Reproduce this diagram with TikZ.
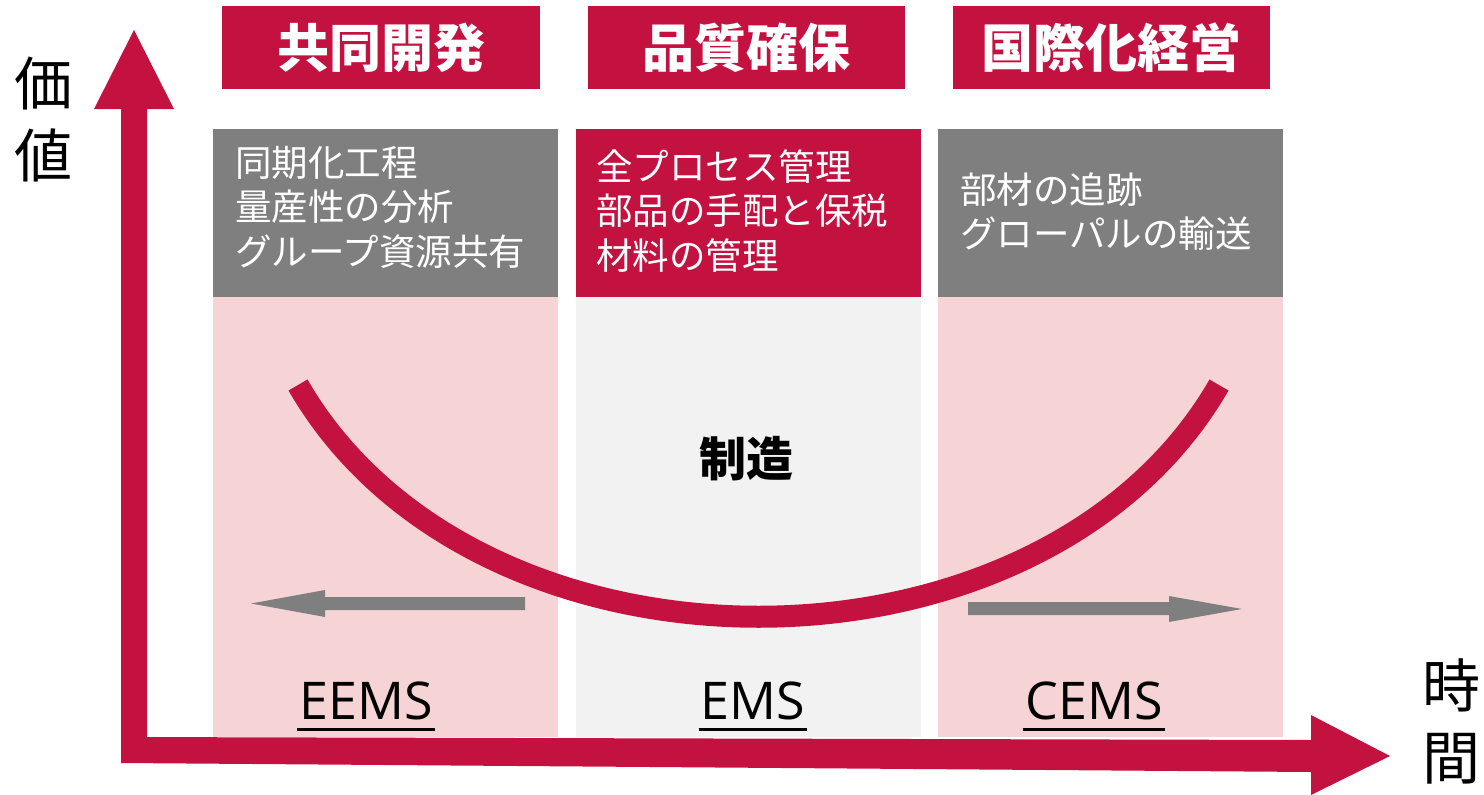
\documentclass[tikz,border=0pt]{standalone}
\usepackage{fontspec}
\setmainfont{Open Sans}
\newfontfamily\jp{Noto Sans CJK JP}
\definecolor{brand}{HTML}{C41240}
\definecolor{grayc}{HTML}{7F7F7F}
\definecolor{pinkc}{HTML}{F6D4D5}
\definecolor{lgray}{HTML}{F2F2F2}
\tikzset{
  hdr/.style={fill=brand,text=white,font=\jp\bfseries\fontsize{52}{60}\selectfont,minimum width=317,minimum height=83,inner sep=0},
  desc/.style={text=white,font=\jp\fontsize{36.5}{44.5}\selectfont,align=left,inner sep=0,anchor=west},
  axlbl/.style={text=black,font=\jp\fontsize{58}{72}\selectfont,align=center,inner sep=0},
  lab/.style={text=black,font=\fontsize{52}{60}\selectfont,inner sep=0},
  uline/.style={line width=2.5pt,black},
  mid/.style={text=black,font=\jp\bfseries\fontsize{47}{55}\selectfont,inner sep=0}
}
\begin{document}
\begin{tikzpicture}[x=1pt,y=-1pt]
\useasboundingbox (0,0) rectangle (1484,795);
% column bodies
\fill[pinkc] (213,297) rectangle (558,737);
\fill[lgray] (576,297) rectangle (921,737);
\fill[pinkc] (938,297) rectangle (1283,737);
% column headers
\fill[grayc] (213,129) rectangle (558,297);
\fill[brand] (576,129) rectangle (921,297);
\fill[grayc] (938,129) rectangle (1283,297);
% top boxes
\node[hdr,minimum width=318] (h1) at (381,47.5) {共同開発};
\node[hdr] (h2) at (746.5,47.5) {品質確保};
\node[hdr] (h3) at (1111.5,47.5) {国際化経営};
% descriptions
\node[desc] (d1) at (235,207) {同期化工程\\量産性の分析\\グループ資源共有};
\node[desc] (d2) at (596,211) {全プロセス管理\\部品の手配と保税\\材料の管理};
\node[desc] (d3) at (960,211.5) {部材の追跡\\グローパルの輸送};
% curve
\draw[brand,line width=22pt] (298,385) .. controls (476,694) and (1041,694) .. (1219,385);
% gray arrows
\fill[grayc] (525,597) -- (325,597) -- (325,590) -- (251,603.5) -- (325,617) -- (325,610) -- (525,610) -- cycle;
\fill[grayc] (968,602) -- (1169,602) -- (1169,596) -- (1242,609) -- (1169,622) -- (1169,615) -- (968,615) -- cycle;
% middle text
\node[mid] (m) at (746,459) {制造};
% labels
\node[lab] (l1) at (366,701) {EEMS};
\node[lab] (l2) at (753,701) {EMS};
\node[lab] (l3) at (1094,701) {CEMS};
\draw[uline] ([shift={(-2pt,-9pt)}]l1.south west) -- ([shift={(2pt,-9pt)}]l1.south east);
\draw[uline] ([shift={(-2pt,-9pt)}]l2.south west) -- ([shift={(2pt,-9pt)}]l2.south east);
\draw[uline] ([shift={(-2pt,-9pt)}]l3.south west) -- ([shift={(2pt,-9pt)}]l3.south east);
% axes
\fill[brand] (134,30) -- (174,109) -- (147,109) -- (147,762) -- (121,762) -- (121,109) -- (94,109) -- cycle;
\fill[brand] (121,737) -- (1311,740) -- (1311,715) -- (1390,756) -- (1311,795) -- (1311,772) -- (121,763) -- cycle;
% axis labels
\node[axlbl] (yl) at (44,119.5) {価\\値};
\node[axlbl] (xl) at (1451,721) {時\\間};
\end{tikzpicture}
\end{document}
